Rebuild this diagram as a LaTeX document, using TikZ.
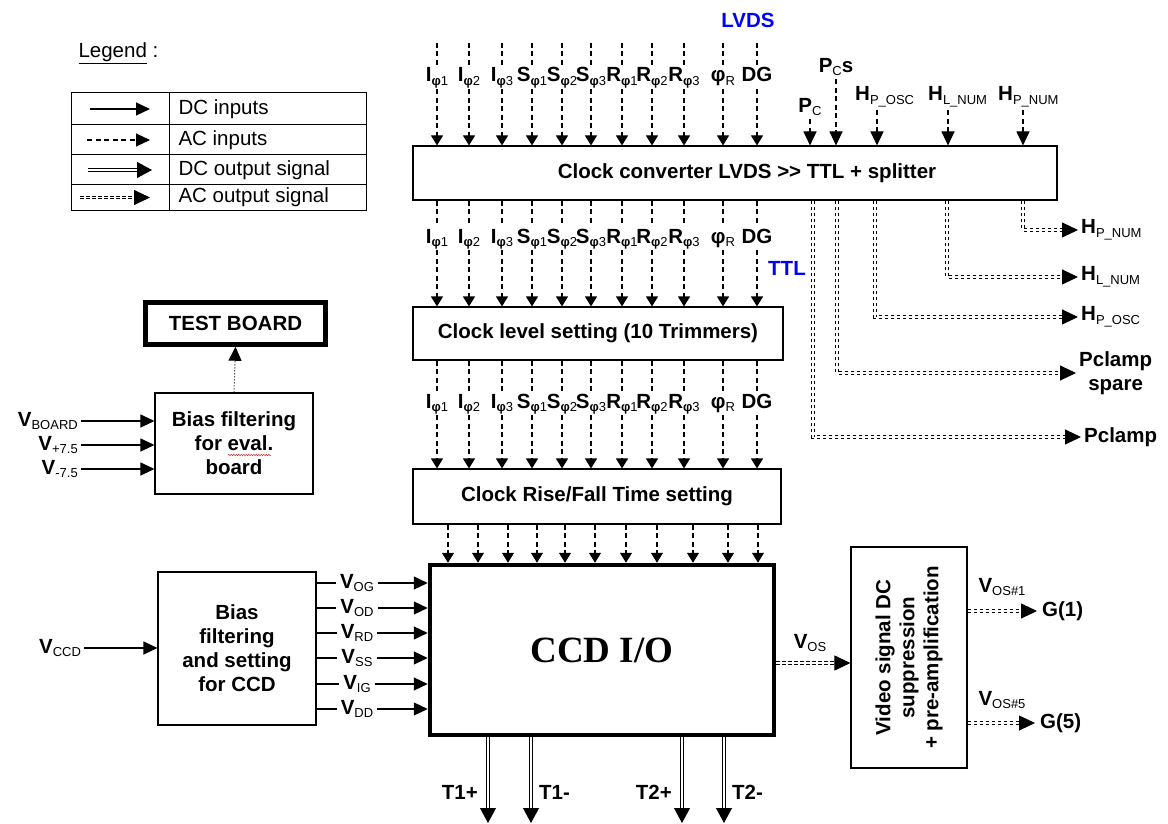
\documentclass[tikz,border=0pt]{standalone}
\usepackage{fontspec}
\setmainfont{Liberation Sans}
\newfontfamily\ccdfont{Liberation Serif}
\usetikzlibrary{arrows.meta,decorations.pathmorphing}
\definecolor{sigblue}{RGB}{0,0,255}
\definecolor{spellred}{RGB}{220,40,40}
\newcommand{\lbl}{\fontsize{20.5}{24}\selectfont\bfseries}
\newcommand{\lgd}{\fontsize{20.5}{22}\selectfont}
\newcommand{\sbs}[1]{\raisebox{-0.35ex}{\fontsize{13}{13}\selectfont\mdseries #1}}
\newcommand{\ph}[1]{\sbs{{\bfseries φ}#1}}
\tikzset{
  blk/.style     ={draw, line width=1.1pt, align=center, font=\lbl, inner sep=2pt},
  thickblk/.style={blk, line width=4.5pt},
  clk/.style     ={font=\lbl, text height=15pt, text depth=5pt, inner sep=2pt},
  sig/.style     ={font=\lbl, inner sep=3pt},
  tip/.style     ={-{Triangle[length=14pt,width=13pt]}},
  smalltip/.style={-{Triangle[length=10pt,width=12pt]}},
  dcin/.style    ={tip, line width=1.1pt},
  acin/.style    ={line width=1.1pt, dash pattern=on 5pt off 3.5pt},
  acinar/.style  ={acin, smalltip},
  dcout/.style   ={-{Triangle[length=15pt,width=16pt]}, double, double distance=2pt, line width=1pt},
  acout/.style   ={-{Triangle[length=16pt,width=15pt]}, double, double distance=1.6pt, line width=0.9pt, dash pattern=on 3.5pt off 2.5pt},
  dotar/.style   ={tip, line width=1pt, dotted},
}

\begin{document}
\begin{tikzpicture}[x=1pt,y=-1pt]
\useasboundingbox (0,0) rectangle (1168,824);
% legend
\node[font=\lgd, anchor=west] (lgdtitle) at (75,53) {\underline{Legend} :};
\draw[line width=1pt] (71,93) rectangle (366,210);
\foreach \y in {125,155,185} \draw[line width=1pt] (71,\y) -- (366,\y);
\draw[line width=1pt] (169,93) -- (169,210);
\draw[dcin] (90,109) -- (150,109);
\draw[acin,tip] (87,140) -- (150,140);
\draw[dcout] (88,170) -- (152,170);
\draw[acout] (80,197.5) -- (150,197.5);
\foreach \y/\t [count=\i] in {109/DC inputs, 140/AC inputs, 170/DC output signal, 197.5/AC output signal}
  \node[font=\lgd, anchor=west] (lgd\i) at (175,\y) {\t};

% blocks
\node[blk, minimum width=644pt, minimum height=54pt] (conv) at (735,173) {\hspace*{24pt}Clock converter LVDS >{}> TTL + splitter};
\node[blk, minimum width=370pt, minimum height=53pt] (lvl) at (598,333.5) {Clock level setting (10 Trimmers)};
\node[blk, minimum width=368pt, minimum height=55pt] (rise) at (597,496.5) {Clock Rise/Fall Time setting};
\node[thickblk, minimum width=344pt, minimum height=170pt, font=\ccdfont\fontsize{37}{42}\selectfont\bfseries] (ccd) at (602,650) {CCD I/O};
\node[blk, minimum width=158pt, minimum height=153pt] (ccdbias) at (237,648.5) {Bias\\filtering\\and setting\\for CCD};
\node[blk, minimum width=158pt, minimum height=101pt] (evalbias) at (234,443.5) {Bias filtering\\for eval.\\board};
\node[thickblk, minimum width=180pt, minimum height=42pt] (testb) at (235.5,323.5) {TEST BOARD};
\node[blk, minimum width=116pt, minimum height=221pt] (video) at (909,657.5) {};
\node[font=\lbl, rotate=90, align=center] (videotxt) at (video.center) {Video signal DC\\suppression\\+ pre-amplification};
\draw[spellred, line width=0.5pt, decorate, decoration={snake, amplitude=0.7pt, segment length=2.5pt}] (228,455) -- (271,455);

% clock lines
\node[font=\lbl, text=sigblue] (lvds) at (748,20) {LVDS};
\node[font=\lbl, text=sigblue] (ttl) at (787,268) {TTL};
\foreach \x/\t [count=\i] in {437/I\ph{1}, 469/I\ph{2}, 502/I\ph{3}, 532/S\ph{1}, 562/S\ph{2}, 591/S\ph{3}, 622/R\ph{1}, 652/R\ph{2}, 684/R\ph{3}, 723/φ\sbs{R}, 757/DG}{
  \coordinate (lv\i) at (\x,43);
  \node[clk] (ta\i) at (\x,77) {\t};
  \node[clk] (tb\i) at (\x,238) {\t};
  \node[clk] (tc\i) at (\x,403) {\t};
  \draw[acin] (lv\i) -- (ta\i.north);
  \draw[acinar] (ta\i.south) -- (ta\i.south |- conv.north);
  \draw[acin] (tb\i.north |- conv.south) -- (tb\i.north);
  \draw[acinar] (tb\i.south) -- (tb\i.south |- lvl.north);
  \draw[acin] (tc\i.north |- lvl.south) -- (tc\i.north);
  \draw[acinar] (tc\i.south) -- (tc\i.south |- rise.north);
}
\foreach \x [count=\i] in {448,478,508,537,565,595,626,657,693,728,758}{
  \coordinate (rc\i) at (\x,0);
  \draw[acinar] (rise.south -| rc\i) -- (ccd.north -| rc\i);
}

% converter side inputs
\node[sig] (pc) at (810,107) {P\sbs{C}};
\node[sig] (pcs) at (836,67) {P\sbs{C}s};
\draw[acin,tip] (pc.south) -- (pc.south |- conv.north);
\draw[acin,tip] (pcs.south) -- (pcs.south |- conv.north);
\foreach \x/\n/\lx/\t in {877/hposc/852/P\_OSC, 948/hlnum/925/L\_NUM, 1023/hpnum/995/P\_NUM}{
  \node[sig, anchor=west] (\n) at (\lx,97) {H\sbs{\t}};
  \coordinate (\n in) at (\x,0);
  \draw[acin,tip] (\n.south -| \n in) -- (conv.north -| \n in);
}

% converter outputs
\node[sig, anchor=west] (opnum) at (1078,230) {H\sbs{P\_NUM}};
\node[sig, anchor=west] (olnum) at (1078,277) {H\sbs{L\_NUM}};
\node[sig, anchor=west] (oposc) at (1078,317) {H\sbs{P\_OSC}};
\node[sig, anchor=west, align=center] (opcs) at (1076,373) {Pclamp\\spare};
\node[sig, anchor=west] (opc) at (1081,437) {Pclamp};
\foreach \x/\o in {1023/opnum, 947/olnum, 875/oposc, 837/opcs, 813/opc}{
  \coordinate (oc) at (\x,0);
  \draw[acout] (conv.south -| oc) |- (\o.west);
}

% eval board bias
\foreach \y/\t [count=\i] in {421/BOARD, 445/+7.5, 469/-7.5}{
  \node[sig, anchor=east] (ve\i) at (81,\y) {V\sbs{\t}};
  \draw[dcin] (ve\i.east) -- (evalbias.west |- ve\i.east);
}
\draw[dotar] (evalbias.north) -- (testb.south);

% ccd bias
\node[sig] (vccd) at (60,648) {V\sbs{CCD}};
\draw[dcin] (vccd.east) -- (ccdbias.west |- vccd.east);
\foreach \y/\t [count=\i] in {583/OG, 608/OD, 633/RD, 658/SS, 684/IG, 709/DD}{
  \node[sig, inner sep=4pt] (vb\i) at (357,\y) {V\sbs{\t}};
  \draw[line width=1.1pt] (ccdbias.east |- vb\i.west) -- (vb\i.west);
  \draw[dcin] (vb\i.east) -- (ccd.west |- vb\i.east);
}

% ccd outputs
\foreach \x/\t/\s/\lx [count=\i] in {488/T1+/east/481, 531/T1-/west/536, 682/T2+/east/675, 724/T2-/west/729}{
  \coordinate (tp\i) at (\x,823);
  \draw[dcout] (ccd.south -| tp\i) -- (tp\i);
  \node[sig, anchor=\s] (tl\i) at (\lx,792) {\t};
}

% video
\coordinate (vosy) at (0,663);
\draw[acout] (ccd.east |- vosy) -- (video.west |- vosy);
\node[sig] (vos) at (810,643) {V\sbs{OS}};
\node[sig, anchor=west, inner sep=5pt] (g1) at (1037,611) {G(1)};
\node[sig, anchor=west, inner sep=5pt] (g5) at (1035,723) {G(5)};
\draw[acout] (video.east |- g1.west) -- (g1.west);
\draw[acout] (video.east |- g5.west) -- (g5.west);
\node[sig] (vos1) at (1002,587) {V\sbs{OS\#1}};
\node[sig] (vos5) at (1002,700) {V\sbs{OS\#5}};
\end{tikzpicture}
\end{document}
